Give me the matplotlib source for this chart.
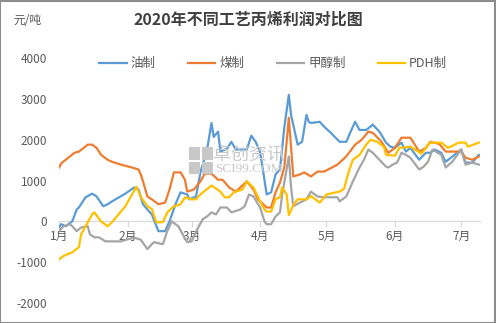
import matplotlib
matplotlib.use("Agg")
import matplotlib.pyplot as plt
import matplotlib.dates as mdates
from matplotlib.patches import Rectangle
import pandas as pd

# 油制 (oil route)
oil_dates = [
    "01-01", "01-02", "01-04", "01-07", "01-09", "01-10", "01-13", "01-16", "01-18", "01-21",
    "01-23", "01-25", "01-31", "02-04", "02-06", "02-08", "02-10", "02-12", "02-15", "02-18",
    "02-20", "02-23", "02-25", "02-28", "02-29", "03-03", "03-05", "03-08", "03-10", "03-11",
    "03-13", "03-14", "03-17", "03-19", "03-21", "03-26", "03-28", "03-30", "04-01", "04-04",
    "04-06", "04-08", "04-10", "04-12", "04-14", "04-15", "04-18", "04-20", "04-22", "04-23",
    "04-24", "04-28", "04-30", "05-03", "05-07", "05-10", "05-12", "05-14", "05-16", "05-19",
    "05-22", "05-25", "05-28", "05-30", "06-01", "06-04", "06-06", "06-08", "06-12", "06-15",
    "06-17", "06-19", "06-22", "06-24", "06-28", "07-01", "07-03", "07-06", "07-09",
]
oil_profit = [
    -150, -70, -120, 0, 290, 340, 590, 680, 610, 370,
    420, 490, 680, 830, 780, 420, 290, 170, -240, -240,
    0, 460, 710, 660, 540, 610, 1200, 1760, 2410, 2070,
    2200, 1710, 1780, 1950, 1760, 1760, 2100, 1950, 1700, 660,
    710, 1150, 1270, 2320, 3100, 2610, 1880, 1950, 2610, 2440,
    2410, 2440, 2320, 2170, 1950, 1950, 2200, 2440, 2240, 2240,
    2370, 2200, 1930, 1830, 1800, 1930, 1710, 1800, 1510, 1680,
    1680, 1760, 1680, 1460, 1630, 1760, 1440, 1440, 1630,
]

# 煤制 (coal route)
coal_dates = [
    "01-01", "01-02", "01-04", "01-08", "01-10", "01-14", "01-16", "01-18", "01-20", "01-23",
    "01-25", "01-29", "02-03", "02-06", "02-07", "02-08", "02-10", "02-12", "02-15", "02-18",
    "02-20", "02-22", "02-25", "02-27", "02-28", "03-02", "03-05", "03-07", "03-10", "03-13",
    "03-15", "03-18", "03-21", "03-26", "03-29", "03-31", "04-04", "04-06", "04-08", "04-10",
    "04-12", "04-14", "04-15", "04-16", "04-19", "04-21", "04-24", "04-27", "04-30", "05-06",
    "05-10", "05-14", "05-17", "05-20", "05-22", "05-26", "05-29", "06-01", "06-04", "06-08",
    "06-12", "06-15", "06-17", "06-21", "06-24", "07-01", "07-03", "07-06", "07-09",
]
coal_profit = [
    1320, 1420, 1510, 1680, 1710, 1880, 1880, 1800, 1630, 1510,
    1460, 1390, 1320, 1270, 1150, 980, 610, 540, 420, 460,
    780, 1200, 1200, 1020, 730, 780, 980, 1170, 1170, 1020,
    1020, 830, 730, 980, 780, 540, 340, 340, 710, 950,
    1340, 2540, 1830, 1100, 1150, 1200, 1100, 1220, 1220, 1390,
    1590, 1880, 2000, 2200, 2170, 1950, 1680, 1800, 2050, 2050,
    1710, 1800, 1950, 1900, 1710, 1710, 1560, 1510, 1590,
]

# 甲醇制 (methanol route)
mto_dates = [
    "01-01", "01-03", "01-06", "01-07", "01-09", "01-11", "01-14", "01-15", "01-17", "01-19",
    "01-22", "01-29", "02-01", "02-04", "02-07", "02-10", "02-12", "02-13", "02-17", "02-19",
    "02-21", "02-24", "02-26", "02-28", "03-01", "03-04", "03-06", "03-08", "03-10", "03-12",
    "03-14", "03-17", "03-19", "03-23", "03-25", "03-27", "03-29", "04-01", "04-03", "04-04",
    "04-06", "04-08", "04-10", "04-11", "04-14", "04-15", "04-16", "04-19", "04-22", "04-24",
    "04-27", "04-30", "05-06", "05-07", "05-10", "05-13", "05-16", "05-18", "05-20", "05-22",
    "05-25", "05-28", "05-29", "05-31", "06-02", "06-04", "06-06", "06-08", "06-12", "06-14",
    "06-16", "06-18", "06-22", "06-24", "06-27", "07-01", "07-03", "07-06", "07-09",
]
mto_profit = [
    -240, -120, -70, -120, -240, -150, -120, -320, -390, -390,
    -490, -490, -440, -400, -450, -680, -560, -510, -560, -240,
    0, -120, -320, -510, -490, -150, 50, 120, 220, 170,
    340, 340, 220, 290, 370, 660, 610, 340, 0, -70,
    -70, 120, 220, 660, 1590, 850, 370, 460, 540, 730,
    610, 590, 590, 490, 610, 980, 1320, 1510, 1760, 1680,
    1510, 1340, 1320, 1390, 1440, 1680, 1630, 1560, 1270, 1340,
    1460, 1760, 1630, 1320, 1460, 1760, 1390, 1440, 1390,
]

# PDH制 (propane dehydrogenation)
pdh_dates = [
    "01-01", "01-03", "01-05", "01-07", "01-10", "01-11", "01-14", "01-16", "01-17", "01-20",
    "01-23", "01-25", "01-31", "02-05", "02-07", "02-10", "02-12", "02-14", "02-17", "02-19",
    "02-22", "02-25", "02-27", "03-01", "03-03", "03-05", "03-10", "03-14", "03-16", "03-18",
    "03-20", "03-24", "03-26", "03-29", "04-01", "04-03", "04-04", "04-06", "04-08", "04-10",
    "04-11", "04-13", "04-14", "04-16", "04-18", "04-22", "04-24", "04-28", "05-01", "05-07",
    "05-09", "05-11", "05-13", "05-16", "05-19", "05-21", "05-24", "05-27", "05-28", "06-01",
    "06-03", "06-08", "06-13", "06-17", "06-22", "06-25", "06-30", "07-03", "07-04", "07-09",
]
pdh_profit = [
    -930, -850, -800, -760, -630, -320, -20, 170, 220, 0,
    -120, -20, 370, 850, 600, 370, 300, -20, -20, 220,
    370, 420, 590, 540, 540, 660, 880, 730, 590, 590,
    710, 780, 980, 830, 490, 290, 240, 240, 540, 590,
    830, 660, 150, 400, 540, 540, 620, 460, 660, 730,
    800, 1200, 1510, 1630, 1880, 2000, 1950, 1830, 1630, 1610,
    1800, 1830, 1660, 1930, 1930, 1800, 1930, 1930, 1830, 1930,
]

series = [
    ("油制", oil_dates, oil_profit, "#5B9BD5"),
    ("煤制", coal_dates, coal_profit, "#ED7D31"),
    ("甲醇制", mto_dates, mto_profit, "#A5A5A5"),
    ("PDH制", pdh_dates, pdh_profit, "#FFC000"),
]

y_ticks = [-2000, -1000, 0, 1000, 2000, 3000, 4000]
month_labels = ["1月", "2月", "3月", "4月", "5月", "6月", "7月"]


def to_dates(days):
    return pd.to_datetime(["2020-" + d for d in days])


plt.rcParams["font.family"] = ["Noto Sans CJK SC", "DejaVu Sans"]
text_grey = "#595959"

fig = plt.figure(figsize=(4.96, 3.23), dpi=100)
fig.patch.set_facecolor("white")
ax = fig.add_axes([0.119, 0.062, 0.849, 0.758])

# watermark sits under the lines
wm = "#C8C8C8"
for dx, dy in [(0, 0), (1, 0), (0, 1), (1, 1)]:
    fig.patches.append(Rectangle((189 / 496 + dx * 12.5 / 496, 1 - 174 / 323 + dy * 14 / 323),
                                 11 / 496, 12.5 / 323, transform=fig.transFigure,
                                 facecolor=wm, edgecolor="none", zorder=0.5))
fig.text(0.502, 0.52, "卓创资讯", fontsize=13, color=wm, ha="center", va="center", zorder=0.5)
fig.text(0.502, 0.477, "SCI99.COM", fontsize=9.5, color=wm, ha="center", va="center",
         family="Liberation Serif", zorder=0.5)

for name, days, vals, color in series:
    ax.plot(to_dates(days), vals, color=color, lw=1.6, label=name, zorder=3)

ax.set_facecolor("none")
ax.set_ylim(-2000, 4000)
ax.set_xlim(pd.Timestamp("2020-01-01"), pd.Timestamp("2020-07-09 14:00"))
ax.set_yticks(y_ticks)
ax.set_yticklabels([str(v) for v in y_ticks])
month_starts = pd.date_range("2020-01-01", periods=len(month_labels), freq="MS")
ax.set_xticks(month_starts)
ax.set_xticklabels(month_labels)

for side in ["left", "right", "top"]:
    ax.spines[side].set_visible(False)
ax.spines["bottom"].set_position(("data", 0))
ax.spines["bottom"].set_color("#D9D9D9")
ax.spines["bottom"].set_linewidth(0.9)
ax.tick_params(axis="y", length=0, pad=8.5, labelsize=8.5, labelcolor=text_grey)
ax.tick_params(axis="x", length=4, width=0.9, color="#D9D9D9", pad=2,
               labelsize=8.5, labelcolor=text_grey)

fig.text(0.5, 0.938, "2020年不同工艺丙烯利润对比图", fontsize=11.5, fontweight="bold",
         color="#404040", ha="center", va="center")
fig.text(0.028, 0.935, "元/吨", fontsize=8.5, color=text_grey, ha="left", va="center")

ax.legend(loc="center", bbox_to_anchor=(0.551, 0.802), bbox_transform=fig.transFigure,
          ncol=4, frameon=False, fontsize=9, handlelength=2.2, handletextpad=0.3,
          columnspacing=2.6, labelcolor=text_grey, borderaxespad=0)

fig.patches.append(Rectangle((0.001, 0.0015), 0.997, 0.996, transform=fig.transFigure,
                             fill=False, edgecolor="#8C8C8C", lw=1.5, zorder=10))

fig.savefig("out.png", dpi=100)
